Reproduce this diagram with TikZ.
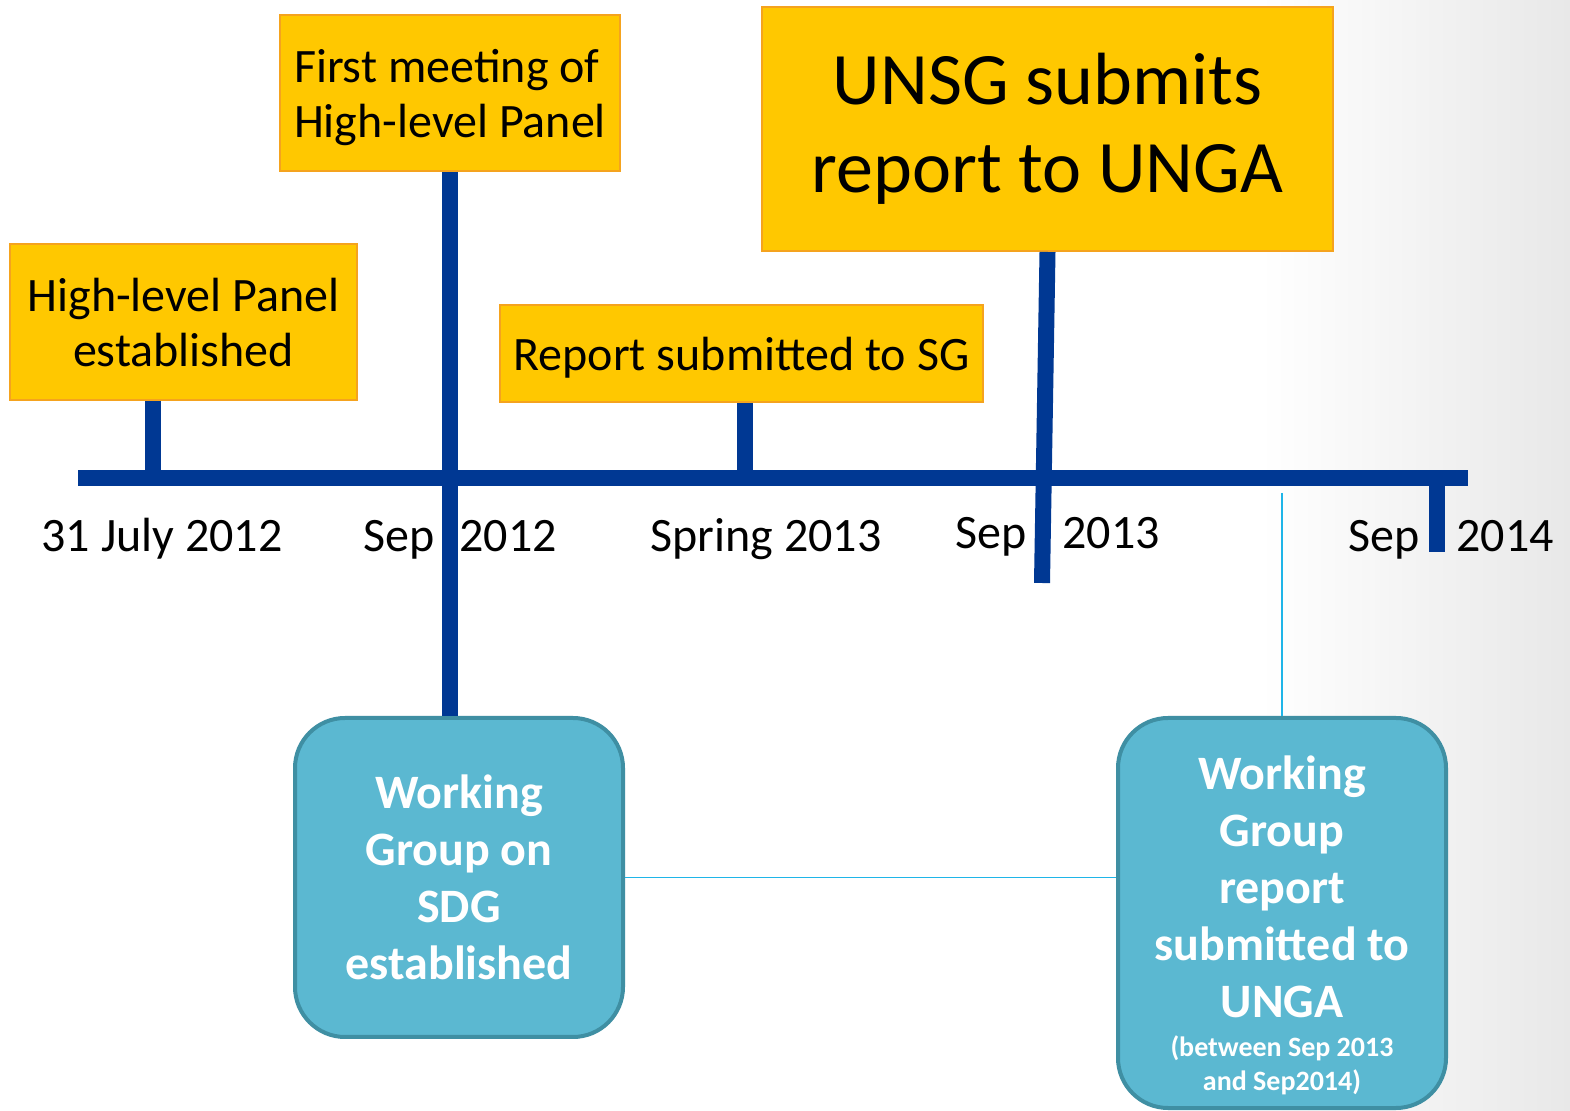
\documentclass[tikz,border=0pt]{standalone}
\usepackage{fontspec}
\setmainfont{Carlito}
\usetikzlibrary{positioning}
\definecolor{axisblue}{HTML}{003893}
\definecolor{eventgold}{HTML}{FFC800}
\definecolor{eventedge}{HTML}{F5A31E}
\definecolor{wgfill}{HTML}{5BB8D1}
\definecolor{wgedge}{HTML}{3F8FA3}
\definecolor{linkcyan}{HTML}{1FB5E8}
\newcommand{\notesize}{\fontsize{14}{17}\selectfont}

\begin{document}
\begin{tikzpicture}[
        x=0.5pt, y=-0.5pt,
        event/.style={draw=eventedge, fill=eventgold, line width=1pt, inner sep=0pt,
            align=center, font=\fontsize{24}{27.5}\selectfont},
        wgbox/.style={draw=wgedge, fill=wgfill, line width=2pt, rounded corners=25pt,
            inner sep=0pt, text=white, align=center,
            font=\bfseries\fontsize{24}{28.5}\selectfont},
        axis/.style={axisblue, line width=8pt},
        link/.style={linkcyan, line width=0.9pt},
        datelbl/.style={font=\fontsize{24}{28}\selectfont}
    ]
        % page and the grey fade on the right
        \useasboundingbox (0,0) rectangle (1570,1111);
        \fill[white] (0,0) rectangle (1570,1111);
        \shade[left color=white, right color=black!9] (1260,0) rectangle (1570,1111);

        % points on the time axis
        \coordinate (ax0) at (78,478);
        \coordinate (ax1) at (1468,478);
        \coordinate (jul12) at (153,478);
        \coordinate (spr13) at (745,478);
        \coordinate (sep13) at (1042,583);
        \coordinate (sep14) at (1437,478);
        \coordinate (sep14end) at (1437,552);
        \coordinate (wgtop) at (1282,493);

        % events above the axis
        \node[event, minimum width=173.5pt, minimum height=78pt, text depth=0pt] (panel) at (183.5,322)
            {High-level Panel\\established};
        \node[event, minimum width=170pt, minimum height=78pt, text depth=0pt, align=left] (meeting) at (450,93)
            {First meeting of\\High-level Panel};
        \node[event, minimum width=241.5pt, minimum height=48.5pt, text depth=0pt] (toSG) at (741.5,353.5)
            {Report submitted to SG};
        \node[event, minimum width=285.5pt, minimum height=122pt,
            font=\fontsize{37}{44}\selectfont] (unsg) at (1047.5,129)
            {UNSG submits\\report to UNGA};

        % working group boxes
        \node[wgbox, minimum width=164pt, minimum height=159.5pt, text depth=-4pt] (wg1) at (459,877.5)
            {Working\\Group on\\SDG\\established};
        \node[wgbox, minimum width=164pt, minimum height=195pt, text depth=7pt] (wg2) at (1282,913)
            {Working\\Group\\report\\submitted to\\UNGA\\[-9pt]
             {\notesize\begin{tabular}[t]{@{}c@{}}(between Sep 2013\\and Sep2014)\end{tabular}}};

        % time axis and ticks
        \draw[axis] (ax0) -- (ax1);
        \draw[axis] (panel.south -| jul12) -- (jul12);
        \draw[axis] (meeting.south) -- (meeting.south |- wg1.north);
        \draw[axis] (toSG.south -| spr13) -- (spr13);
        \draw[axis] (unsg.south) -- (sep13);
        \draw[axis] (sep14) -- (sep14end);

        % thin links
        \draw[link] (wgtop) -- (wg2.north);
        \draw[link] (wg1.east) -- (wg1.east -| wg2.west);

        % dates
        \node[datelbl, anchor=base] (d1) at (162,552) {31 July 2012};
        \node[datelbl, anchor=base east, inner xsep=0pt] (d2a) at (435,552) {Sep};
        \node[datelbl, anchor=base west, inner xsep=0pt] (d2b) at (459,552) {2012};
        \node[datelbl, anchor=base] (d3) at (766,552) {Spring 2013};
        \node[datelbl, anchor=base east, inner xsep=0pt] (d4a) at (1027,549) {Sep};
        \node[datelbl, anchor=base west, inner xsep=0pt] (d4b) at (1062,549) {2013};
        \node[datelbl, anchor=base east, inner xsep=0pt] (d5a) at (1420,552) {Sep};
        \node[datelbl, anchor=base west, inner xsep=0pt] (d5b) at (1456,552) {2014};
    \end{tikzpicture}
\end{document}
